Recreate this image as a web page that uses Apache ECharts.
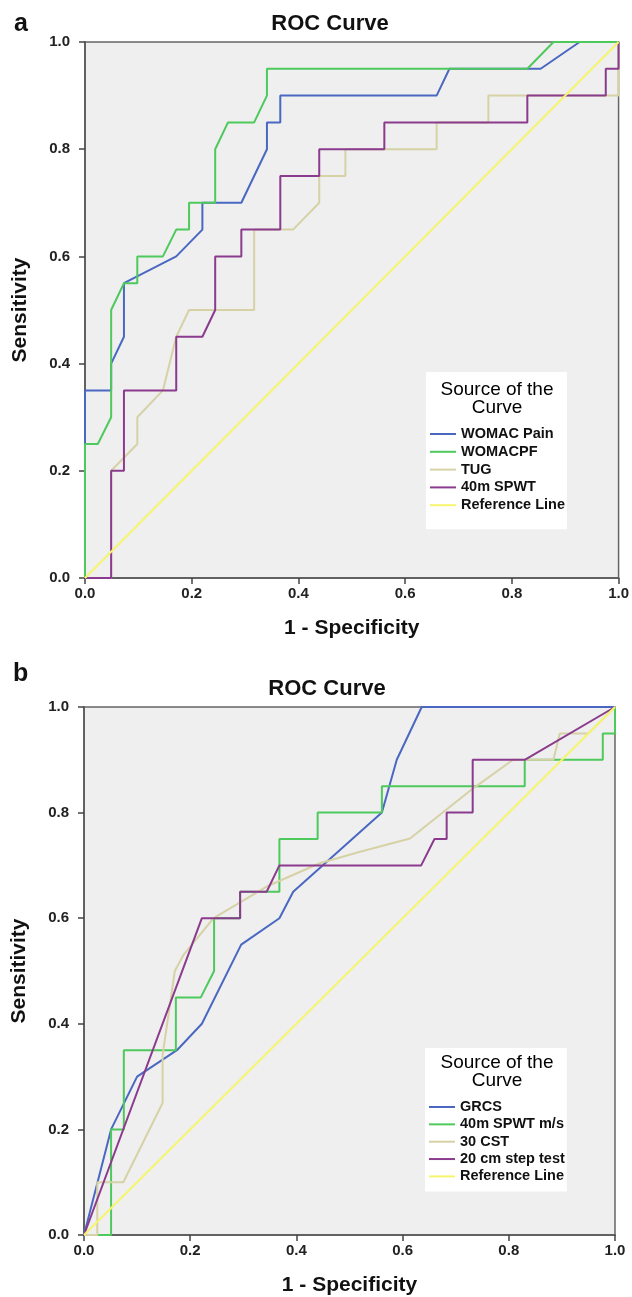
<!DOCTYPE html>
<html>
<head>
<meta charset="utf-8">
<script src="https://cdn.jsdelivr.net/npm/echarts@6/dist/echarts.min.js"></script>
<style>
  html,body{margin:0;padding:0;background:#fff;}
  #roc{width:632px;height:1297px;}
</style>
</head>
<body>
<div id="roc"></div>
<script>
  // panel a
  var namesA = ['WOMAC Pain', 'WOMACPF', 'TUG', '40m SPWT', 'Reference Line'];
  var womacPain = [[0,0],[0,0.35],[0.049,0.35],[0.049,0.40],[0.073,0.45],[0.073,0.55],[0.171,0.60],[0.22,0.65],[0.22,0.70],[0.293,0.70],[0.341,0.80],[0.341,0.85],[0.366,0.85],[0.366,0.90],[0.659,0.90],[0.683,0.95],[0.854,0.95],[0.927,1],[1,1]];
  var womacPF = [[0,0],[0,0.25],[0.024,0.25],[0.049,0.30],[0.049,0.50],[0.073,0.55],[0.098,0.55],[0.098,0.60],[0.146,0.60],[0.171,0.65],[0.195,0.65],[0.195,0.70],[0.244,0.70],[0.244,0.80],[0.268,0.85],[0.317,0.85],[0.341,0.90],[0.341,0.95],[0.829,0.95],[0.878,1],[1,1]];
  var tug = [[0,0],[0.049,0],[0.049,0.20],[0.098,0.25],[0.098,0.30],[0.146,0.35],[0.171,0.45],[0.195,0.50],[0.317,0.50],[0.317,0.65],[0.390,0.65],[0.439,0.70],[0.439,0.75],[0.488,0.75],[0.488,0.80],[0.659,0.80],[0.659,0.85],[0.756,0.85],[0.756,0.90],[1,0.90],[1,1]];
  var spwt = [[0,0],[0.049,0],[0.049,0.20],[0.073,0.20],[0.073,0.35],[0.171,0.35],[0.171,0.45],[0.22,0.45],[0.244,0.50],[0.244,0.60],[0.293,0.60],[0.293,0.65],[0.366,0.65],[0.366,0.75],[0.439,0.75],[0.439,0.80],[0.561,0.80],[0.561,0.85],[0.829,0.85],[0.829,0.90],[0.976,0.90],[0.976,0.95],[1,0.95],[1,1]];

  // panel b
  var namesB = ['GRCS', '40m SPWT m/s', '30 CST', '20 cm step test', 'Reference Line'];
  var grcs = [[0,0],[0.051,0.20],[0.10,0.30],[0.175,0.35],[0.222,0.40],[0.296,0.55],[0.368,0.60],[0.394,0.65],[0.561,0.80],[0.589,0.90],[0.636,1],[1,1]];
  var spwtMs = [[0,0],[0.051,0],[0.051,0.20],[0.075,0.20],[0.075,0.35],[0.173,0.35],[0.173,0.45],[0.22,0.45],[0.245,0.50],[0.245,0.60],[0.294,0.60],[0.294,0.65],[0.368,0.65],[0.368,0.75],[0.44,0.75],[0.44,0.80],[0.561,0.80],[0.561,0.85],[0.83,0.85],[0.83,0.90],[0.977,0.90],[0.977,0.95],[1,0.95],[1,1]];
  var cst = [[0,0],[0.025,0],[0.025,0.10],[0.074,0.10],[0.148,0.25],[0.148,0.34],[0.171,0.50],[0.187,0.53],[0.244,0.60],[0.344,0.66],[0.444,0.704],[0.52,0.726],[0.614,0.751],[0.733,0.846],[0.808,0.90],[0.884,0.90],[0.896,0.95],[0.95,0.95],[1,1]];
  var stepTest = [[0,0],[0.222,0.60],[0.294,0.60],[0.294,0.65],[0.344,0.65],[0.368,0.70],[0.635,0.70],[0.66,0.75],[0.683,0.75],[0.683,0.80],[0.732,0.80],[0.732,0.90],[0.83,0.90],[1,1]];

  var refLine = [[0,0],[1,1]];
  var ticks = [0, 0.2, 0.4, 0.6, 0.8, 1.0];

  var colors = ['#4a68c2', '#4ec95c', '#d6d2a6', '#8b3b8d', '#f6f56e'];
  var FONT = 'Liberation Sans';

  var rocChart = echarts.init(document.getElementById('roc'));

  function mkX(idx) {
    return {
      type: 'value', gridIndex: idx, min: ticks[0], max: ticks[ticks.length - 1], interval: 0.2,
      name: '1 - Specificity', nameLocation: 'middle', nameGap: 40,
      nameTextStyle: {fontFamily: FONT, fontSize: 21, fontWeight: 'bold', color: '#111'},
      axisLine: {show: true, onZero: false, lineStyle: {color: '#555', width: 1.5}},
      axisTick: {show: true, inside: false, length: 6, lineStyle: {color: '#444', width: 1.5}},
      axisLabel: {fontFamily: FONT, fontSize: 15, fontWeight: 'bold', color: '#222', margin: 8, formatter: function (v) { return v.toFixed(1); }},
      splitLine: {show: false}
    };
  }
  function mkY(idx) {
    return {
      type: 'value', gridIndex: idx, min: ticks[0], max: ticks[ticks.length - 1], interval: 0.2,
      name: 'Sensitivity', nameLocation: 'middle', nameGap: 54,
      nameTextStyle: {fontFamily: FONT, fontSize: 21, fontWeight: 'bold', color: '#111'},
      axisLine: {show: true, onZero: false, lineStyle: {color: '#555', width: 1.5}},
      axisTick: {show: true, inside: false, length: 6, lineStyle: {color: '#444', width: 1.5}},
      axisLabel: {fontFamily: FONT, fontSize: 15, fontWeight: 'bold', color: '#222', margin: 15, formatter: function (v) { return v.toFixed(1); }},
      splitLine: {show: false}
    };
  }
  function mkSeries(name, data, color, idx) {
    return {
      name: name, type: 'line', data: data, xAxisIndex: idx, yAxisIndex: idx,
      showSymbol: false, symbol: 'none', silent: true,
      lineStyle: {color: color, width: 2}, itemStyle: {color: color}
    };
  }
  function mkLegend(names, left, top, pad, gap) {
    return {
      data: names, orient: 'vertical', left: left, top: top,
      backgroundColor: '#fff', padding: pad, itemGap: gap,
      icon: 'rect', itemWidth: 26, itemHeight: 2, selectedMode: false,
      textStyle: {fontFamily: FONT, fontSize: 14.5, fontWeight: 'bold', lineHeight: 16, color: '#111'}
    };
  }

  var rocOption = {
    animation: false,
    grid: [
      {left: 85, top: 42, width: 537, height: 536, show: true, backgroundColor: '#efefef', borderColor: '#666', borderWidth: 1.5},
      {left: 84, top: 707, width: 531, height: 528, show: true, backgroundColor: '#efefef', borderColor: '#666', borderWidth: 1.5}
    ],
    xAxis: [mkX(0), mkX(1)],
    yAxis: [mkY(0), mkY(1)],
    legend: [
      mkLegend(namesA, 426, 372, [54, 2, 16, 4], 1.8),
      mkLegend(namesB, 425, 1048, [51, 2, 7, 4], 1.35)
    ],
    graphic: [
      {type: 'text', x: 14, y: 24, style: {text: 'a', font: 'bold 25px ' + FONT, fill: '#111', verticalAlign: 'middle'}},
      {type: 'text', x: 13, y: 674, style: {text: 'b', font: 'bold 25px ' + FONT, fill: '#111', verticalAlign: 'middle'}},
      {type: 'text', x: 330, y: 24, style: {text: 'ROC Curve', font: 'bold 22px ' + FONT, fill: '#111', align: 'center', verticalAlign: 'middle'}},
      {type: 'text', x: 327, y: 689, style: {text: 'ROC Curve', font: 'bold 22px ' + FONT, fill: '#111', align: 'center', verticalAlign: 'middle'}},
      {type: 'text', x: 497, y: 399, z: 100, style: {text: 'Source of the\nCurve', font: '19px ' + FONT, lineHeight: 18, fill: '#000', align: 'center', verticalAlign: 'middle'}},
      {type: 'text', x: 497, y: 1072, z: 100, style: {text: 'Source of the\nCurve', font: '19px ' + FONT, lineHeight: 18, fill: '#000', align: 'center', verticalAlign: 'middle'}}
    ],
    series: [
      mkSeries(namesA[0], womacPain, colors[0], 0),
      mkSeries(namesA[1], womacPF, colors[1], 0),
      mkSeries(namesA[2], tug, colors[2], 0),
      mkSeries(namesA[3], spwt, colors[3], 0),
      mkSeries(namesA[4], refLine, colors[4], 0),
      mkSeries(namesB[0], grcs, colors[0], 1),
      mkSeries(namesB[1], spwtMs, colors[1], 1),
      mkSeries(namesB[2], cst, colors[2], 1),
      mkSeries(namesB[3], stepTest, colors[3], 1),
      mkSeries(namesB[4], refLine, colors[4], 1)
    ]
  };

  rocOption && rocChart.setOption(rocOption);
</script>
</body>
</html>
